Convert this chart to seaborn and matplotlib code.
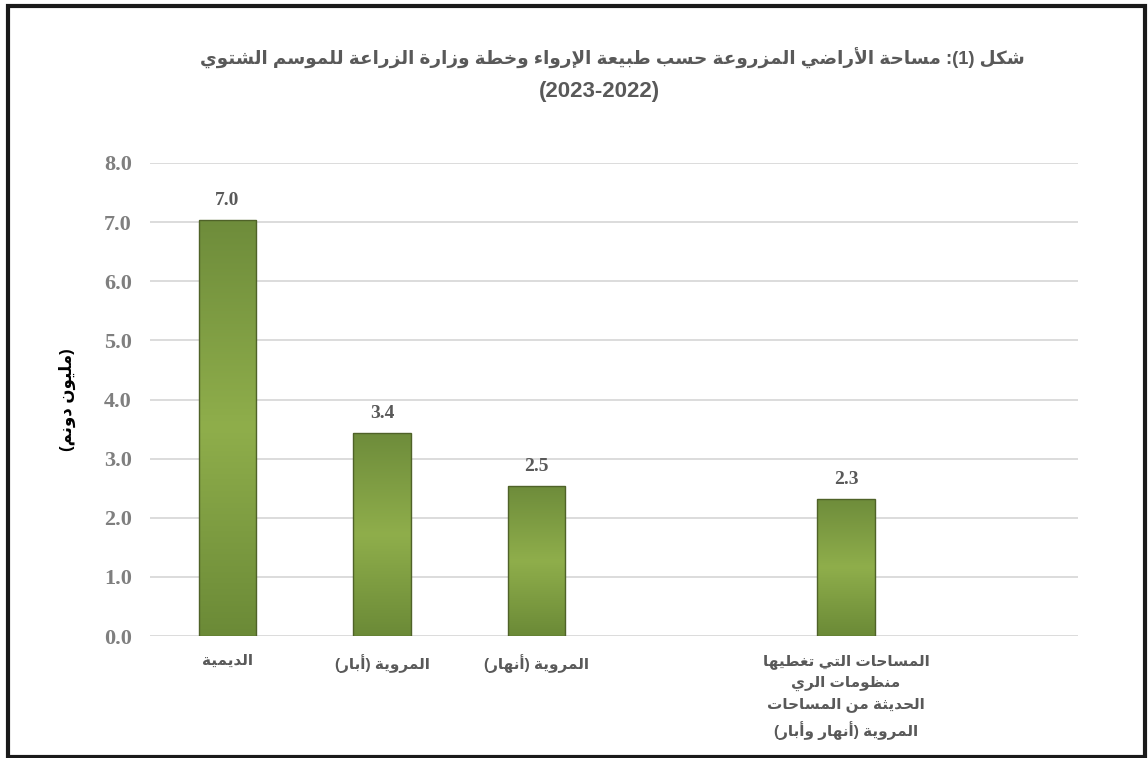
import re
import numpy as np
import pandas as pd
import matplotlib
matplotlib.use("Agg")
import matplotlib.pyplot as plt
import seaborn as sns
from matplotlib.colors import LinearSegmentedColormap
from matplotlib.patches import Rectangle

# ---------------- data ----------------
categories = ["الديمية", "المروية (أبار)", "المروية (أنهار)",
              "المساحات التي تغطيها\nمنظومات الري\nالحديثة من المساحات\nالمروية (أنهار وأبار)"]
values = [7.04, 3.43, 2.53, 2.32]
slot_order = [categories[0], categories[1], categories[2], "_gap1", categories[3], "_gap2"]
title_line1 = "شكل (1): مساحة الأراضي المزروعة حسب طبيعة الإرواء وخطة وزارة الزراعة للموسم الشتوي"
title_line2 = "(2023-2022)"
y_label = "(مليون دونم)"
y_ticks = [0, 1, 2, 3, 4, 5, 6, 7, 8]

# ---------------- minimal Arabic shaping + RTL ordering ----------------
_FORMS = {'ء': (0xFE80, 1), 'آ': (0xFE81, 2), 'أ': (0xFE83, 2), 'ؤ': (0xFE85, 2), 'إ': (0xFE87, 2),
          'ئ': (0xFE89, 4), 'ا': (0xFE8D, 2), 'ب': (0xFE8F, 4), 'ة': (0xFE93, 2), 'ت': (0xFE95, 4),
          'ث': (0xFE99, 4), 'ج': (0xFE9D, 4), 'ح': (0xFEA1, 4), 'خ': (0xFEA5, 4), 'د': (0xFEA9, 2),
          'ذ': (0xFEAB, 2), 'ر': (0xFEAD, 2), 'ز': (0xFEAF, 2), 'س': (0xFEB1, 4), 'ش': (0xFEB5, 4),
          'ص': (0xFEB9, 4), 'ض': (0xFEBD, 4), 'ط': (0xFEC1, 4), 'ظ': (0xFEC5, 4), 'ع': (0xFEC9, 4),
          'غ': (0xFECD, 4), 'ف': (0xFED1, 4), 'ق': (0xFED5, 4), 'ك': (0xFED9, 4), 'ل': (0xFEDD, 4),
          'م': (0xFEE1, 4), 'ن': (0xFEE5, 4), 'ه': (0xFEE9, 4), 'و': (0xFEED, 2), 'ى': (0xFEEF, 2),
          'ي': (0xFEF1, 4)}
_LAMALEF = {'آ': 0xFEF5, 'أ': 0xFEF7, 'إ': 0xFEF9, 'ا': 0xFEFB}


def _shape(s):
    units = []
    i = 0
    while i < len(s):
        c = s[i]
        if c == 'ل' and i + 1 < len(s) and s[i + 1] in _LAMALEF:
            units.append((None, _LAMALEF[s[i + 1]], 2))
            i += 2
            continue
        if c in _FORMS:
            b, n = _FORMS[c]
            units.append((c, b, n))
        else:
            units.append((c, None, 0))
        i += 1
    out = []
    for k, (c, b, n) in enumerate(units):
        if b is None:
            out.append(c)
            continue
        prev_j = k > 0 and units[k - 1][2] == 4
        next_j = k + 1 < len(units) and units[k + 1][2] >= 1
        if n == 1:
            off = 0
        elif n == 2:
            off = 1 if prev_j else 0
        else:
            if prev_j and next_j:
                off = 3
            elif prev_j:
                off = 1
            elif next_j:
                off = 2
            else:
                off = 0
        out.append(chr(b + off))
    return "".join(out)


def ar(s):
    lines = []
    for line in s.split("\n"):
        t = _shape(line)[::-1]
        t = t.translate(str.maketrans("()", ")("))
        t = re.sub(r"[0-9][0-9.\-]*[0-9]|[0-9]", lambda m: m.group(0)[::-1], t)
        lines.append(t)
    return "\n".join(lines)


# ---------------- figure ----------------
sns.set_theme(style="white")
SANS = ["Liberation Sans", "DejaVu Sans"]
SERIF = ["Liberation Serif", "DejaVu Serif"]
plt.rcParams["font.family"] = SANS

W, H = 1148, 758
fig = plt.figure(figsize=(W / 100, H / 100), dpi=100)
ax = fig.add_axes([150 / W, 1 - 636 / H, (1078 - 150) / W, (636 - 163) / H])

df = pd.DataFrame({"cat": categories, "val": values})
sns.barplot(data=df, x="cat", y="val", order=slot_order, ax=ax, width=0.37,
            color="#7a9a3e", edgecolor="#4f6228", linewidth=1.0, zorder=3)

# gradient fill clipped to each bar
cmap = LinearSegmentedColormap.from_list("g", ["#6b8a37", "#8fae4b", "#6e8c3b"])
grad = np.linspace(0, 1, 256).reshape(-1, 1)
for p in list(ax.patches):
    x0, y0 = p.get_x(), p.get_y()
    w, h = p.get_width(), p.get_height()
    im = ax.imshow(grad, cmap=cmap, aspect="auto", extent=(x0, x0 + w, y0, y0 + h),
                   origin="lower", zorder=3.5, interpolation="bicubic")
    im.set_clip_path(p)
    p.set_facecolor("none")
    p.set_zorder(4)

ax.set_xlim(-0.5, len(slot_order) - 0.5)
ax.set_ylim(0, 8)
ax.set_yticks(y_ticks)
ax.set_yticklabels([f"{v:.1f}" for v in y_ticks], fontfamily=SERIF, fontweight="bold",
                   fontsize=16, color="#7f7f7f")
ax.yaxis.grid(True, color="#d9d9d9", linewidth=1.3, zorder=0)
ax.set_axisbelow(True)
ax.tick_params(axis="y", length=0, pad=13)
ax.tick_params(axis="x", length=0, pad=13)

xt = ax.get_xticks()
ax.set_xticks(xt)
ax.set_xticklabels([ar(c) if not c.startswith("_gap") else "" for c in slot_order],
                   fontweight="bold", fontsize=11, color="#595959", linespacing=1.6,
                   va="top", ha="center")
for s in ax.spines.values():
    s.set_visible(False)
ax.set_xlabel("")
ax.set_ylabel(ar(y_label), fontweight="bold", fontsize=12, color="black", labelpad=20)

for c in ax.containers:
    ax.bar_label(c, fmt="%.1f", padding=8, fontfamily=SERIF, fontweight="bold",
                 fontsize=14, color="#595959")

fig.text(612 / W, 1 - 58 / H, ar(title_line1), ha="center", va="center",
         fontweight="bold", fontsize=13.2, color="#595959")
fig.text(599 / W, 1 - 92 / H, title_line2, ha="center", va="center",
         fontweight="bold", fontsize=16, color="#595959")

fig.patches.append(Rectangle((8 / W, 1 - 756.5 / H), (1145 - 8) / W, (756.5 - 6) / H,
                             transform=fig.transFigure, fill=False, edgecolor="#1a1a1a",
                             linewidth=3.0, zorder=10))

fig.savefig("out.png", dpi=100)
